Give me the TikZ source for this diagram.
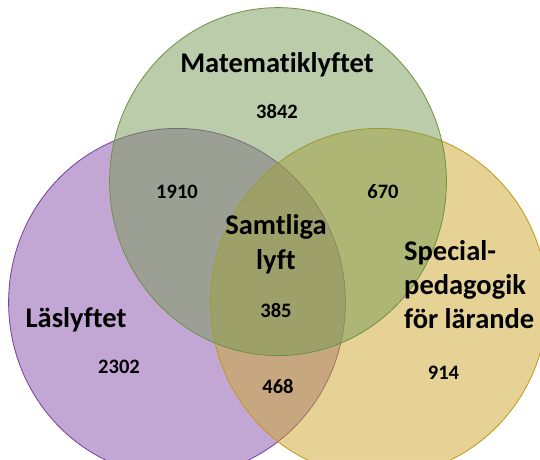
\documentclass[tikz,border=0pt]{standalone}
\usepackage{fontspec}
\setmainfont[Ligatures={NoCommon}]{Carlito}
\definecolor{pbase}{RGB}{135,81,171}
\definecolor{ybase}{RGB}{205,167,43}
\definecolor{gbase}{RGB}{119,155,85}
\definecolor{pline}{RGB}{120,60,165}
\definecolor{yline}{RGB}{195,150,20}
\definecolor{gline}{RGB}{110,145,65}
\tikzset{
  setcirc/.style={fill opacity=0.5, line width=0.8pt},
  bigtxt/.style={font=\fontsize{28.5}{34}\selectfont\bfseries, inner sep=0pt},
  numtxt/.style={font=\fontsize{20.5}{24}\selectfont\bfseries, inner sep=0pt},
}
\begin{document}
\begin{tikzpicture}[x=1pt,y=-1pt]
\useasboundingbox (0,0) rectangle (540,459);
\fill[white] (0,0) rectangle (540,459);
\draw[setcirc, fill=pbase, draw=pline] (177,302.4) ellipse [x radius=168.4, y radius=174];
\draw[setcirc, fill=ybase, draw=yline] (379,302.4) ellipse [x radius=168.4, y radius=174];
\draw[setcirc, fill=gbase, draw=gline] (278,181.6) ellipse [x radius=168.4, y radius=174];
\node[bigtxt] (mat) at (277,65) {Matematiklyftet};
\node[numtxt] (n3842) at (277,111) {3842};
\node[numtxt] (n1910) at (177,192) {1910};
\node[numtxt] (n670) at (383,192) {670};
\node[bigtxt, align=center] (sam) at (276,244.5) {Samtliga\\[1pt]lyft};
\node[numtxt] (n385) at (276,310) {385};
\node[bigtxt] (las) at (76,320) {Läslyftet};
\node[numtxt] (n2302) at (119,367) {2302};
\node[numtxt] (n468) at (278,386) {468};
\node[bigtxt, align=left, anchor=west] (spec) at (404,284.5) {Special-\\pedagogik\\för lärande};
\node[numtxt] (n914) at (443.5,373) {914};
\end{tikzpicture}
\end{document}
